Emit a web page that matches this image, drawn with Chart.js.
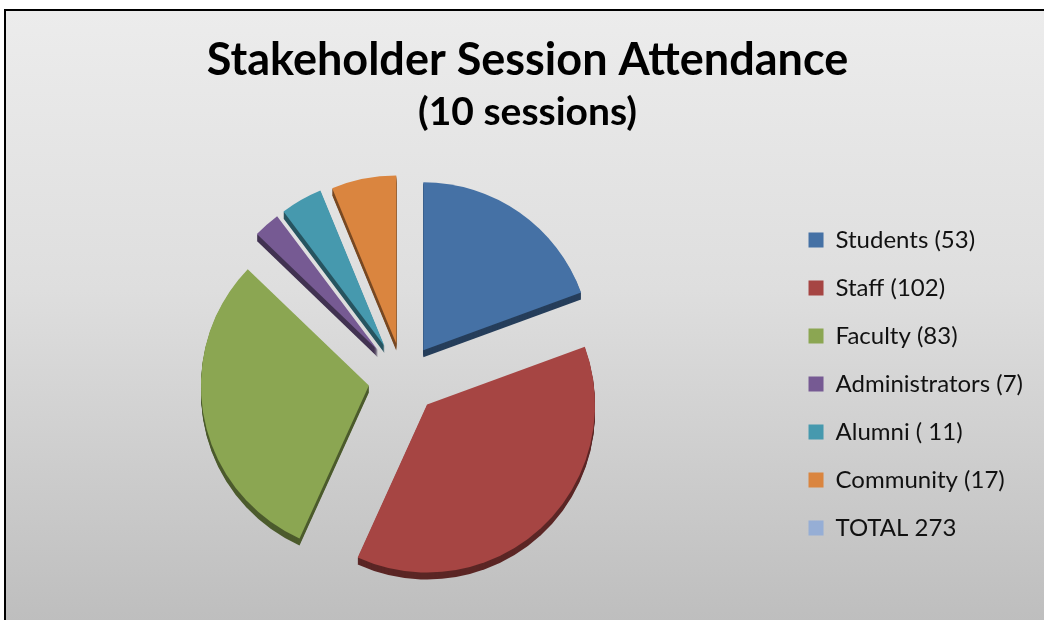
<!DOCTYPE html>
<html>
<head>
<meta charset="utf-8">
<script src="https://cdn.jsdelivr.net/npm/chart.js@4.4.1/dist/chart.umd.min.js"></script>
<style>
  html, body { margin: 0; padding: 0; background: #fff; overflow: hidden; }
  #frame {
    position: absolute; left: 4px; top: 9px;
    width: 1050px; height: 620px;
    border: 2px solid #000;
    background: linear-gradient(to bottom, #ececec 0%, #dedede 45%, #bdbdbd 100%);
  }
  #wrap { position: relative; width: 1050px; height: 620px; }
</style>
</head>
<body>
<div id="frame"><div id="wrap"><canvas id="grafico"></canvas></div></div>
<script>
// --- DATA ---
const categories = ['Students (53)', 'Staff (102)', 'Faculty (83)', 'Administrators (7)', 'Alumni ( 11)', 'Community (17)', 'TOTAL 273'];
const attendance = [53, 102, 83, 7, 11, 17, 0];
const sliceColors = ['#4571a5', '#a64543', '#8ba652', '#765a93', '#4699ae', '#da853f', '#96aed5'];
const explode = [35, 35, 35, 38, 38, 36, 0];
const titleText = 'Stakeholder Session Attendance';
const subtitleText = '(10 sessions)';

// darker shade for the 3D side of each slice
function shade(hex, f) {
  const n = parseInt(hex.slice(1), 16);
  const r = Math.round(((n >> 16) & 255) * f);
  const g = Math.round(((n >> 8) & 255) * f);
  const b = Math.round((n & 255) * f);
  return `rgb(${r},${g},${b})`;
}

// draws the exploded slices with a thickness, from the arcs chart.js computed
// (the built-in offset also grows the radius of thin slices, so it is done here)
const explodedPie = {
  id: 'explodedPie',
  beforeDatasetsDraw(chart) {
    const ctx = chart.ctx;
    const meta = chart.getDatasetMeta(0);
    const depth = 7;
    const slices = meta.data.map((arc, i) => {
      const p = arc.getProps(['x', 'y', 'startAngle', 'endAngle', 'outerRadius']);
      const half = (p.startAngle + p.endAngle) / 2;
      const off = explode[i] || 0;
      return { p, i, cx: p.x + Math.cos(half) * off, cy: p.y + Math.sin(half) * off };
    }).filter(s => s.p.endAngle - s.p.startAngle > 0);

    function wedge(s, dy) {
      ctx.beginPath();
      ctx.moveTo(s.cx, s.cy + dy);
      ctx.arc(s.cx, s.cy + dy, s.p.outerRadius, s.p.startAngle, s.p.endAngle);
      ctx.closePath();
      ctx.fill();
    }

    ctx.save();
    slices.forEach(s => {
      ctx.fillStyle = shade(sliceColors[s.i], 0.55);
      for (let t = depth; t >= 1; t--) wedge(s, t);
    });
    slices.forEach(s => {
      ctx.fillStyle = sliceColors[s.i];
      wedge(s, 0);
    });
    ctx.restore();
    return false;
  }
};

const ctx = document.getElementById('grafico').getContext('2d');
new Chart(ctx, {
  type: 'pie',
  data: {
    labels: categories,
    datasets: [{
      data: attendance,
      backgroundColor: sliceColors,
      borderWidth: 0,
      radius: 168
    }]
  },
  options: {
    responsive: true,
    maintainAspectRatio: false,
    animation: false,
    layout: {
      padding: { left: 16, right: 23, top: 0, bottom: 19 }
    },
    plugins: {
      tooltip: { enabled: false },
      title: {
        display: true,
        text: titleText,
        color: '#000',
        font: { family: 'Lato', size: 45, weight: 'bold', lineHeight: 1.2 },
        padding: { top: 22, bottom: 0 }
      },
      subtitle: {
        display: true,
        text: subtitleText,
        color: '#000',
        font: { family: 'Lato', size: 39, weight: 'bold', lineHeight: 1.2 },
        padding: { top: 2, bottom: 10 }
      },
      legend: {
        position: 'right',
        title: {
          display: true,
          text: '',
          font: { size: 1, lineHeight: 1 },
          padding: { top: 144, bottom: 0 }
        },
        labels: {
          boxWidth: 15,
          boxHeight: 15,
          padding: 24,
          color: '#111',
          font: { family: 'Lato', size: 24 }
        }
      }
    }
  },
  plugins: [explodedPie]
});
</script>
</body>
</html>
